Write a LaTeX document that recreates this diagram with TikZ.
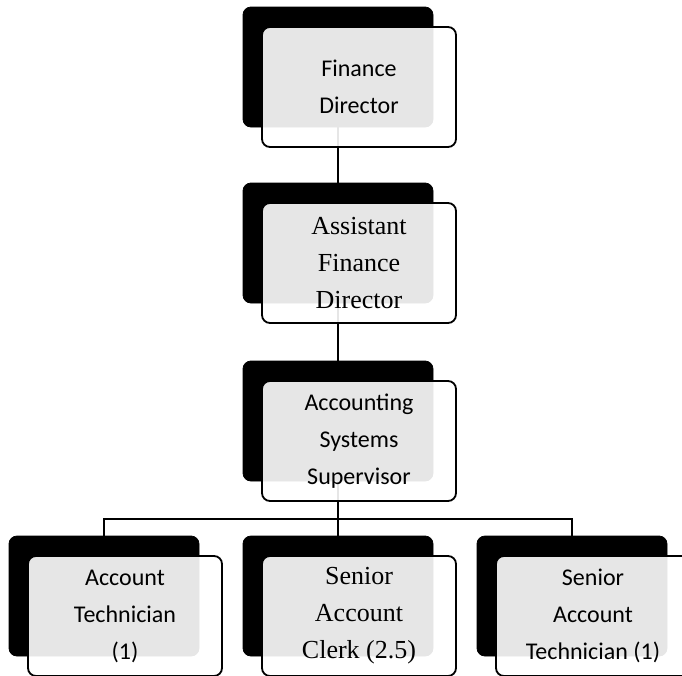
\documentclass[tikz,border=0pt]{standalone}
\usepackage{fontspec}
\setmainfont{Carlito}
\newfontfamily\timesfont{Liberation Serif}

\begin{document}
\begin{tikzpicture}[x=0.5pt, y=-0.5pt,
    backbox/.style={rectangle, rounded corners=4pt, fill=black, draw=black,
        minimum width=95pt, minimum height=60pt, inner sep=0pt},
    frontbox/.style={rectangle, rounded corners=4pt, draw=black, line width=0.9pt,
        fill=white, fill opacity=0.9, text opacity=1, minimum width=97pt,
        minimum height=60pt, inner sep=0pt, align=center,
        font=\fontsize{12}{18.5}\selectfont},
    serif/.style={font=\timesfont\fontsize{13}{18.5}\selectfont},
    link/.style={line width=0.8pt}]
    \useasboundingbox (0,0) rectangle (682,676);

    % back boxes
    \node [backbox] (fdb) at (338,67) {};
    \node [backbox] (afdb) at (338,243) {};
    \node [backbox] (assb) at (338,421) {};
    \node [backbox] (atb) at (104,596) {};
    \node [backbox] (sacb) at (338,596) {};
    \node [backbox] (satb) at (572,596) {};

    % connectors
    \draw [link] (fdb.south) -- (afdb.north);
    \draw [link] (afdb.south) -- (assb.north);
    \coordinate (split) at (338,519);
    \draw [link] (assb.south) -- (split);
    \draw [link] (atb.north) |- (split) -| (satb.north);
    \draw [link] (split) -- (sacb.north);

    % front boxes
    \node [frontbox] (fd) at ([xshift=10.5pt, yshift=-10pt]fdb.center) {Finance\\Director};
    \node [frontbox, serif] (afd) at ([xshift=10.5pt, yshift=-10pt]afdb.center) {Assistant\\Finance\\Director};
    \node [frontbox] (ass) at ([xshift=10.5pt, yshift=-10pt]assb.center) {Accounting\\Systems\\Supervisor};
    \node [frontbox] (at) at ([xshift=10.5pt, yshift=-10pt]atb.center) {Account\\Technician\\(1)};
    \node [frontbox, serif] (sac) at ([xshift=10.5pt, yshift=-10pt]sacb.center) {Senior\\Account\\Clerk (2.5)};
    \node [frontbox] (sat) at ([xshift=10.5pt, yshift=-10pt]satb.center) {Senior\\Account\\Technician (1)};
\end{tikzpicture}
\end{document}
